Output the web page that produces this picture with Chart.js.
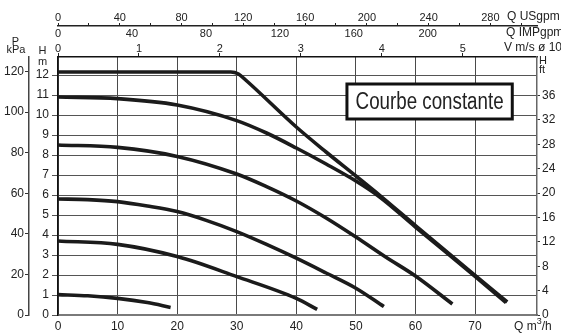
<!DOCTYPE html>
<html>
<head>
<meta charset="utf-8">
<script src="https://cdn.jsdelivr.net/npm/chart.js@4/dist/chart.umd.min.js"></script>
<style>
html,body{margin:0;padding:0;background:#fff;}
canvas{display:block;}
</style>
</head>
<body>
<canvas id="c" width="561" height="333"></canvas>
<script>
// ---- data (Q in m3/h, H in m) ----
const c1Q = [0, 29, 30.3, 31.5, 40, 45, 50, 54, 60, 70, 75.4];
const c1H = [12.15, 12.15, 12.05, 11.75, 9.4, 8.15, 6.95, 5.98, 4.47, 1.98, 0.65];
const c2Q = [0, 10, 20, 30, 35, 40, 45, 50, 54, 60, 70, 75.2];
const c2H = [10.9, 10.82, 10.5, 9.72, 9.1, 8.35, 7.55, 6.7, 5.9, 4.4, 1.93, 0.62];
const c3Q = [0, 10, 20, 30, 35, 40, 45, 50, 55, 60, 66.2];
const c3H = [8.5, 8.38, 7.93, 7.05, 6.42, 5.7, 4.85, 3.9, 2.9, 1.95, 0.55];
const c4Q = [0, 5, 10, 15, 20, 25, 30, 35, 40, 45, 50, 54.7];
const c4H = [5.8, 5.77, 5.67, 5.45, 5.17, 4.72, 4.17, 3.53, 2.84, 2.1, 1.34, 0.42];
const c5Q = [0, 10, 20, 30, 40, 43.5];
const c5H = [3.7, 3.53, 2.92, 1.92, 0.83, 0.28];
const c6Q = [0, 5, 10, 15, 18.9];
const c6H = [1.02, 0.96, 0.83, 0.62, 0.38];

// axis ranges / ticks
const qMax = 80.4;          // m3/h
const hMax = 12.9;          // m
const pMax = 127.2;         // kPa
const ftMax = 42.3;         // ft
const usMax = 310.2;        // US gpm
const impMax = 259.1;       // IMP gpm
const vMax = 5.917;         // m/s
const qTickMax = 70, impTickMax = 200, usLabelMax = 280, ftTickMax = 36;
const boxQ = [48.5, 76.25];
const boxH = [11.55, 9.8];
const boxLabel = 'Courbe constante';

const curves = [[c1Q,c1H],[c2Q,c2H],[c3Q,c3H],[c4Q,c4H],[c5Q,c5H],[c6Q,c6H]];
const FONT = '"Liberation Sans", Arial, Helvetica, sans-serif';
const TXT = '#222';
const f11 = { size: 11, family: FONT, lineHeight: 1 };
const f12 = { size: 12, family: FONT, lineHeight: 1 };

const titlePlugin = {
  id: 'titles',
  afterDatasetsDraw(chart) {
    const c = chart.ctx;
    const sx = chart.scales.x, sy = chart.scales.y;
    const x0 = sx.getPixelForValue(boxQ[0]), x1 = sx.getPixelForValue(boxQ[1]);
    const y0 = sy.getPixelForValue(boxH[0]), y1 = sy.getPixelForValue(boxH[1]);
    c.save();
    c.fillStyle = '#fff';
    c.fillRect(x0, y0, x1 - x0, y1 - y0);
    c.lineWidth = 3;
    c.strokeStyle = '#111';
    c.strokeRect(x0, y0, x1 - x0, y1 - y0);
    c.fillStyle = '#222';
    c.font = '23px ' + FONT;
    c.textAlign = 'center';
    c.textBaseline = 'middle';
    c.fillText(boxLabel, (x0 + x1) / 2, (y0 + y1) / 2 + 1, 148);
    c.restore();
  },
  afterDraw(chart) {
    const c = chart.ctx;
    c.save();
    c.fillStyle = TXT;
    c.textBaseline = 'middle';
    c.font = '11px ' + FONT;
    c.textAlign = 'center';
    c.fillText('P', 15.5, 42);
    c.fillText('kPa', 16, 50);
    c.fillText('H', 42.5, 51);
    c.fillText('m', 42.5, 62);
    c.textAlign = 'left';
    c.fillText('H', 539, 61);
    c.fillText('ft', 539, 70);
    c.font = '12px ' + FONT;
    c.fillText('Q USgpm', 507, 17);
    c.fillText('Q IMPgpm', 506, 33);
    c.fillText('V m/s \u00f8 10', 504, 48);
    // Q m3/h
    let x = 514;
    c.fillText('Q m', x, 327);
    x += c.measureText('Q m').width;
    c.font = '9px ' + FONT;
    c.fillText('3', x, 322);
    x += c.measureText('3').width;
    c.font = '12px ' + FONT;
    c.fillText('/h', x, 327);
    c.restore();
  }
};

const fit = (w, h) => (s) => { if (w != null) s.width = w; if (h != null) s.height = h; };
const upTo = (m) => (s) => { s.ticks = s.ticks.filter(t => t.value <= m); };

new Chart(document.getElementById('c'), {
  type: 'line',
  data: {
    datasets: curves.map(([q, h]) => ({
      data: q.map((v, i) => ({ x: v, y: h[i] })),
      borderColor: '#1b1b1b',
      borderWidth: 3.6,
      pointRadius: 0,
      fill: false,
      cubicInterpolationMode: 'monotone',
      borderCapStyle: 'butt',
      xAxisID: 'x',
      yAxisID: 'y'
    }))
  },
  options: {
    responsive: false,
    animation: false,
    devicePixelRatio: 1,
    layout: { padding: 0, autoPadding: false },
    plugins: { legend: { display: false }, tooltip: { enabled: false } },
    scales: {
      x: {
        type: 'linear', position: 'bottom', min: 0, max: qMax,
        afterFit: fit(null, 18),
        afterBuildTicks: upTo(qTickMax),
        ticks: { stepSize: 10, includeBounds: false, padding: 6, color: TXT, font: f12, maxRotation: 0 },
        grid: { color: '#4a4a4a', lineWidth: 1, drawTicks: false },
        border: { display: true, color: '#7a7a7a', width: 2 }
      },
      xV: {
        type: 'linear', position: 'top', weight: 0, min: 0, max: vMax,
        afterFit: fit(null, 16),
        ticks: { stepSize: 1, includeBounds: false, padding: -1.5, color: TXT, font: f11, maxRotation: 0 },
        grid: { drawOnChartArea: false, drawTicks: true, tickLength: 4, color: '#222' },
        border: { display: true, color: '#111', width: 1.5 }
      },
      xIMP: {
        type: 'linear', position: 'top', weight: 1, min: 0, max: impMax,
        afterFit: fit(null, 15),
        afterBuildTicks: upTo(impTickMax),
        ticks: { stepSize: 40, includeBounds: false, padding: 2, color: TXT, font: f11, maxRotation: 0 },
        grid: { display: false, drawTicks: false },
        border: { display: false }
      },
      xUS: {
        type: 'linear', position: 'top', weight: 2, min: 0, max: usMax,
        afterFit: fit(null, 26),
        ticks: { stepSize: 20, includeBounds: false, padding: 0, color: TXT, font: f11, maxRotation: 0, autoSkip: false,
          callback: (v) => (v % 40 === 0 && v <= usLabelMax) ? String(v) : '' },
        grid: { drawOnChartArea: false, drawTicks: true, tickLength: 3, color: '#222' },
        border: { display: true, color: '#222', width: 1.5 }
      },
      y: {
        type: 'linear', position: 'left', weight: 0, min: 0, max: hMax,
        afterFit: fit(29, null),
        ticks: { stepSize: 1, includeBounds: false, padding: 3, color: TXT, font: f12, autoSkip: false },
        grid: { color: '#555', lineWidth: 1, drawTicks: true, tickLength: 6 },
        border: { display: true, color: '#111', width: 1.5 }
      },
      yP: {
        type: 'linear', position: 'left', weight: 1, min: 0, max: pMax,
        afterFit: fit(29, null),
        ticks: { stepSize: 20, includeBounds: false, padding: 1, color: TXT, font: f12, autoSkip: false },
        grid: { drawOnChartArea: false, drawTicks: true, tickLength: 4, color: '#333' },
        border: { display: true, color: '#444', width: 1.5 }
      },
      yFt: {
        type: 'linear', position: 'right', min: 0, max: ftMax,
        afterFit: fit(24, null),
        afterBuildTicks: upTo(ftTickMax),
        ticks: { stepSize: 4, includeBounds: false, padding: 2, color: TXT, font: f12, autoSkip: false },
        grid: { drawOnChartArea: false, drawTicks: true, tickLength: 3, color: '#333' },
        border: { display: true, color: '#666', width: 1.5 }
      }
    }
  },
  plugins: [titlePlugin]
});
</script>
</body>
</html>
